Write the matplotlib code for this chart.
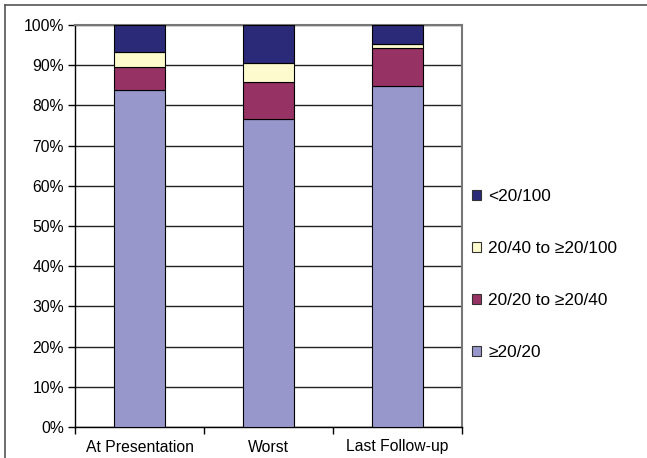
import matplotlib
matplotlib.use('Agg')
import matplotlib.pyplot as plt
from matplotlib.patches import Patch
from matplotlib.lines import Line2D
import numpy as np

plt.rcParams['font.family'] = ['Liberation Sans', 'DejaVu Sans']

# share of eyes in each visual acuity group (percent)
stages = ['At Presentation', 'Worst', 'Last Follow-up']
groups = ['\u226520/20', '20/20 to \u226520/40', '20/40 to \u226520/100', '<20/100']
good = [83.8, 76.6, 84.8]
mild = [5.8, 9.3, 9.4]
moderate = [3.6, 4.7, 1.0]
poor = [6.8, 9.4, 4.8]
colors = ['#9797cb', '#963264', '#fdfbcd', '#2b2a78']

fig = plt.figure(figsize=(6.47, 4.58), dpi=100)
ax = fig.add_axes([75/647, 1-427/458, (462-75)/647, (427-25)/458])

x = np.arange(len(stages))
bottom = np.zeros(len(stages))
for vals, col, lab in zip([good, mild, moderate, poor], colors, groups):
    ax.bar(x, vals, width=0.4, bottom=bottom, color=col, edgecolor='black',
           linewidth=0.8, label=lab, zorder=3)
    bottom += np.array(vals)

ax.set_xlim(-0.5, 2.5)
ax.set_ylim(0, 100)
ax.set_yticks(np.arange(0, 101, 10))
ax.set_yticklabels(['%d%%' % v for v in range(0, 101, 10)], fontsize=11.3)
ax.yaxis.grid(True, color='#222222', linewidth=1.0, zorder=0)
ax.set_xticks(x)
ax.set_xticklabels(stages, fontsize=11.3)
ax.tick_params(axis='x', length=0, pad=9)
ax.set_xticks([-0.5, 0.5, 1.5, 2.5], minor=True)
ax.tick_params(axis='x', which='minor', length=5, width=1, color='black', direction='out')
ax.tick_params(axis='y', length=5, width=1, direction='out', pad=3)
for s in ['left', 'bottom']:
    ax.spines[s].set_color('black')
    ax.spines[s].set_linewidth(1.0)
for s in ['top', 'right']:
    ax.spines[s].set_color('#777777')
    ax.spines[s].set_linewidth(1.5)

handles = [Patch(facecolor=c, edgecolor='#333333', linewidth=0.8) for c in colors][::-1]
fig.legend(handles, groups[::-1], loc='upper left', bbox_to_anchor=(472/647, 1-189/458),
           frameon=False, fontsize=12.4, labelspacing=2.15, handlelength=0.55,
           handleheight=0.55, handletextpad=0.4, borderpad=0, borderaxespad=0)

# outer frame
fig.add_artist(Line2D([5/647, 5/647], [0, 1-5/458], color='#555555', linewidth=1.2))
fig.add_artist(Line2D([5/647, 1], [1-5/458, 1-5/458], color='#555555', linewidth=1.2))

fig.savefig('out.png', dpi=100)
